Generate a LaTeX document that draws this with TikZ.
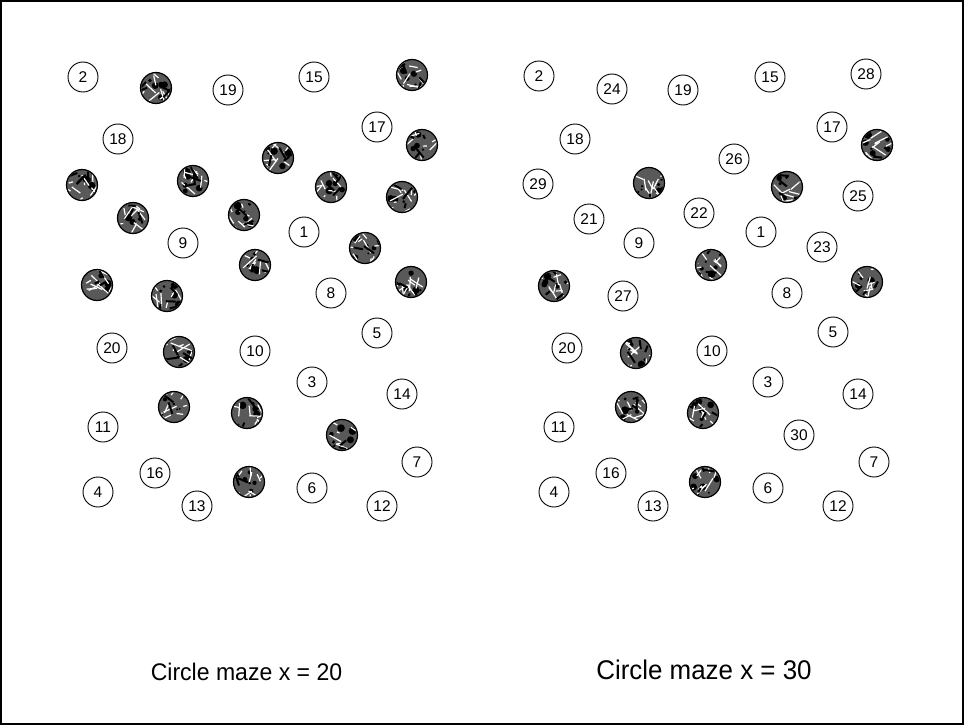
\documentclass[tikz,border=0pt]{standalone}
\usepackage{fontspec}
\setmainfont{Liberation Sans}
\usetikzlibrary{calc}
\newcommand\darkball[3]{%
  \node[darkc] (#1) at (#2,#3) {};
  \begin{scope}
    \clip (#1.center) circle (14.5);
    \foreach \k in {1,...,5}{\fill[black] ($(#1.center)+(rand*12,rand*12)$) circle (2.5+rand*1.5);}
    \foreach \k in {1,...,9}{\draw[white,line width=1.2pt] ($(#1.center)+(rand*13,rand*13)$) -- ++(rand*14,rand*14);}
    \foreach \k in {1,...,4}{\draw[black,line width=2pt] ($(#1.center)+(rand*13,rand*13)$) -- ++(rand*12,rand*12);}
  \end{scope}}
\begin{document}
\begin{tikzpicture}[x=1pt,y=-1pt,
  numc/.style={circle,draw,line width=0.9pt,minimum size=30pt,inner sep=0pt,font=\fontsize{15.5}{15.5}\selectfont},
  darkc/.style={circle,draw,line width=1.2pt,fill=black!65,minimum size=31pt,inner sep=0pt},
  captext/.style={inner sep=0pt}]
\useasboundingbox (0,0) rectangle (964,725);
\pgfmathsetseed{11}
\draw[line width=2pt] (1,1) rectangle (963,724);
% ---------- left panel ----------
\node[numc] (L2) at (83,77) {2};
\node[numc] (L19) at (228,90) {19};
\node[numc] (L15) at (314,77) {15};
\node[numc] (L18) at (118,139) {18};
\node[numc] (L17) at (377,127) {17};
\node[numc] (L9) at (183,243) {9};
\node[numc] (L1) at (304,232) {1};
\node[numc] (L8) at (331,293) {8};
\node[numc] (L5) at (377,333) {5};
\node[numc] (L20) at (112,348) {20};
\node[numc] (L10) at (255,351) {10};
\node[numc] (L3) at (312,382) {3};
\node[numc] (L14) at (402,394) {14};
\node[numc] (L11) at (103,427) {11};
\node[numc] (L7) at (417,462) {7};
\node[numc] (L16) at (155,473) {16};
\node[numc] (L4) at (98,492) {4};
\node[numc] (L13) at (197,506) {13};
\node[numc] (L6) at (312,488) {6};
\node[numc] (L12) at (382,506) {12};
\darkball{LD1}{156}{88}
\darkball{LD2}{412}{75}
\darkball{LD3}{422}{145}
\darkball{LD4}{278}{158}
\darkball{LD5}{82}{185}
\darkball{LD6}{193}{181}
\darkball{LD7}{331}{187}
\darkball{LD8}{402}{197}
\darkball{LD9}{133}{218}
\darkball{LD10}{244}{215}
\darkball{LD11}{365}{248}
\darkball{LD12}{255}{265}
\darkball{LD13}{97}{285}
\darkball{LD14}{167}{296}
\darkball{LD15}{411}{282}
\darkball{LD16}{179}{352}
\darkball{LD17}{174}{407}
\darkball{LD18}{247}{413}
\darkball{LD19}{342}{435}
\darkball{LD20}{249}{482}
% ---------- right panel ----------
\node[numc] (R2) at (539,76) {2};
\node[numc] (R24) at (612,89) {24};
\node[numc] (R19) at (683,90) {19};
\node[numc] (R15) at (770,77) {15};
\node[numc] (R28) at (866,74) {28};
\node[numc] (R18) at (575,139) {18};
\node[numc] (R17) at (832,127) {17};
\node[numc] (R26) at (734,159) {26};
\node[numc] (R29) at (538,184) {29};
\node[numc] (R25) at (858,196) {25};
\node[numc] (R21) at (589,219) {21};
\node[numc] (R22) at (699,213) {22};
\node[numc] (R1) at (761,232) {1};
\node[numc] (R23) at (822,247) {23};
\node[numc] (R9) at (639,243) {9};
\node[numc] (R27) at (623,296) {27};
\node[numc] (R8) at (787,293) {8};
\node[numc] (R5) at (833,332) {5};
\node[numc] (R20) at (567,348) {20};
\node[numc] (R10) at (712,351) {10};
\node[numc] (R3) at (768,382) {3};
\node[numc] (R14) at (858,394) {14};
\node[numc] (R11) at (559,427) {11};
\node[numc] (R30) at (799,435) {30};
\node[numc] (R7) at (874,462) {7};
\node[numc] (R16) at (611,473) {16};
\node[numc] (R4) at (554,492) {4};
\node[numc] (R13) at (653,506) {13};
\node[numc] (R6) at (768,488) {6};
\node[numc] (R12) at (838,506) {12};
\darkball{RD1}{877}{145}
\darkball{RD2}{649}{183}
\darkball{RD3}{787}{187}
\darkball{RD4}{711}{265}
\darkball{RD5}{554}{286}
\darkball{RD6}{867}{282}
\darkball{RD7}{636}{353}
\darkball{RD8}{631}{407}
\darkball{RD9}{703}{413}
\darkball{RD10}{705}{482}
% ---------- captions ----------
\node[captext,font=\fontsize{24}{24}\selectfont,xscale=0.96] (capL) at (246.5,672) {Circle maze x = 20};
\node[captext,font=\fontsize{27}{27}\selectfont,xscale=0.96] (capR) at (704,670) {Circle maze x = 30};
\end{tikzpicture}
\end{document}
